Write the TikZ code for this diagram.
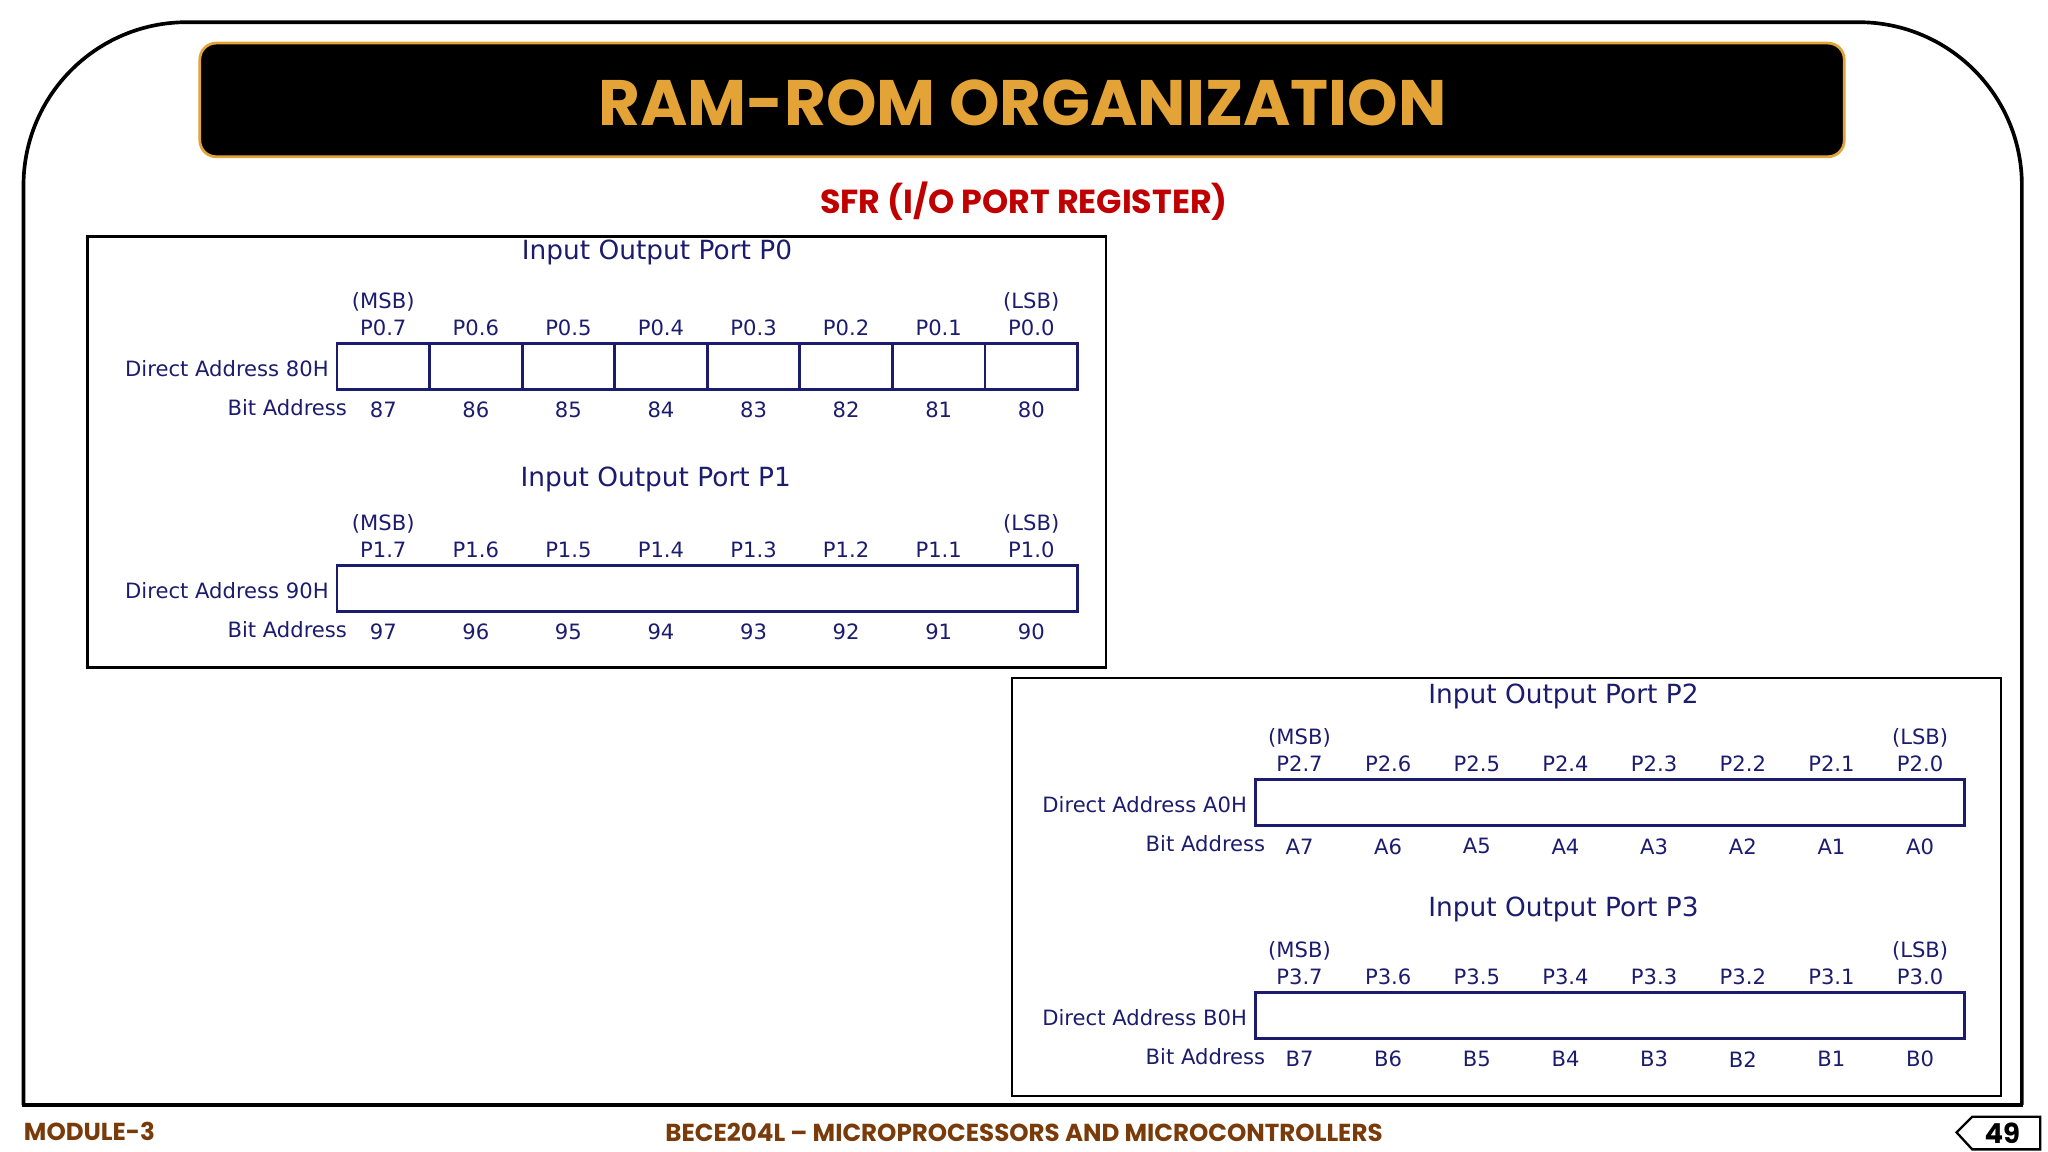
\documentclass[tikz,border=0pt]{standalone}
\usepackage{fontspec}
\setmainfont{DejaVu Sans}
\newfontfamily\headfont{Poppins}
\definecolor{navy}{HTML}{1C1C6E}
\definecolor{gold}{HTML}{E3A336}
\definecolor{brick}{HTML}{C00000}
\definecolor{brown}{HTML}{7A3B0A}
\tikzset{
  lbl/.style={text=navy,font=\fontsize{9.2}{10}\selectfont,inner sep=0pt},
  ttl/.style={text=navy,font=\fontsize{11.5}{12}\selectfont,inner sep=0pt},
  frame/.style={draw=black,line width=1pt},
  reg/.style={draw=navy,line width=1.2pt},
  foot/.style={text=brown,font=\headfont\bfseries\fontsize{10.7}{11}\selectfont,inner sep=0pt}
}
% one port register: #1 name, #2 left x, #3 right x, #4 row y, #5 title position, #6 address, #7 bit values, #8 split cells
\newcommand\portreg[8]{%
  \pgfmathsetmacro\cw{(#3-#2)/8}
  \node[ttl] (t#1) at (#5) {Input Output Port #1};
  \draw[reg] (#2,#4+71) rectangle (#3,#4+106);
  \foreach \b [count=\i from 0] in {#7} {
    \pgfmathtruncatemacro\n{7-\i}
    \node[lbl] (n#1\i) at ({#2+(\i+0.5)*\cw},#4+59) {#1.\n};
    \node[lbl] (b#1\i) at ({#2+(\i+0.5)*\cw},#4+122) {\b};
  }
  \ifnum#8=1
    \foreach \i in {1,...,7} \draw[reg] ({#2+\i*\cw},#4+71) -- ({#2+\i*\cw},#4+106);
  \fi
  \node[lbl] (m#1) at ({#2+0.5*\cw},#4+39) {(MSB)};
  \node[lbl] (l#1) at ({#2+7.5*\cw},#4+39) {(LSB)};
  \node[lbl,anchor=east] (d#1) at (#2-6,#4+90) {Direct Address #6};
  \node[lbl,anchor=east] (a#1) at (#2+8,#4+120) {Bit Address};
}
\begin{document}
\begin{tikzpicture}[x=0.2mm,y=-0.2mm]
\useasboundingbox (0,0) rectangle (1568,882);
% outer frame
\draw[line width=1.6pt,rounded corners=25mm] (18,846) -- (18,17) -- (1548,17) -- (1548,846);
\draw[line width=1.6pt] (17,846) -- (1549,846);
% title bar
\draw[draw=gold,fill=black,line width=1.2pt,rounded corners=2.5mm] (153,33) rectangle (1412,120);
\node[text=gold,font=\headfont\bfseries\fontsize{28}{32}\selectfont] (title) at (783,79) {RAM-ROM ORGANIZATION};
\node[text=brick,font=\headfont\bfseries\fontsize{14.5}{16}\selectfont] (sub) at (784,154) {SFR (I/O PORT REGISTER)};
% boxes
\draw[frame] (67,181) rectangle (847,511);
\draw[frame] (775,519) rectangle (1532,839);
\portreg{P0}{258}{825}{192}{503,193}{80H}{87,86,85,84,83,82,81,80}{1}
\portreg{P1}{258}{825}{362}{502,367}{90H}{97,96,95,94,93,92,91,90}{0}
\portreg{P2}{961}{1504}{526}{1197,533}{A0H}{A7,A6,A5,A4,A3,A2,A1,A0}{0}
\portreg{P3}{961}{1504}{689}{1197,696}{B0H}{B7,B6,B5,B4,B3,B2,B1,B0}{0}
% footer
\node[foot,anchor=west] (mod) at (18,866) {MODULE-3};
\node[foot] (course) at (784,867) {BECE204L – MICROPROCESSORS AND MICROCONTROLLERS};
\draw[line width=1pt] (1498,867) -- (1510,855) -- (1562,855) -- (1562,880) -- (1510,880) -- cycle;
\node[font=\headfont\bfseries\fontsize{12}{13}\selectfont,inner sep=0pt] (page) at (1533,868) {49};
\end{tikzpicture}
\end{document}
